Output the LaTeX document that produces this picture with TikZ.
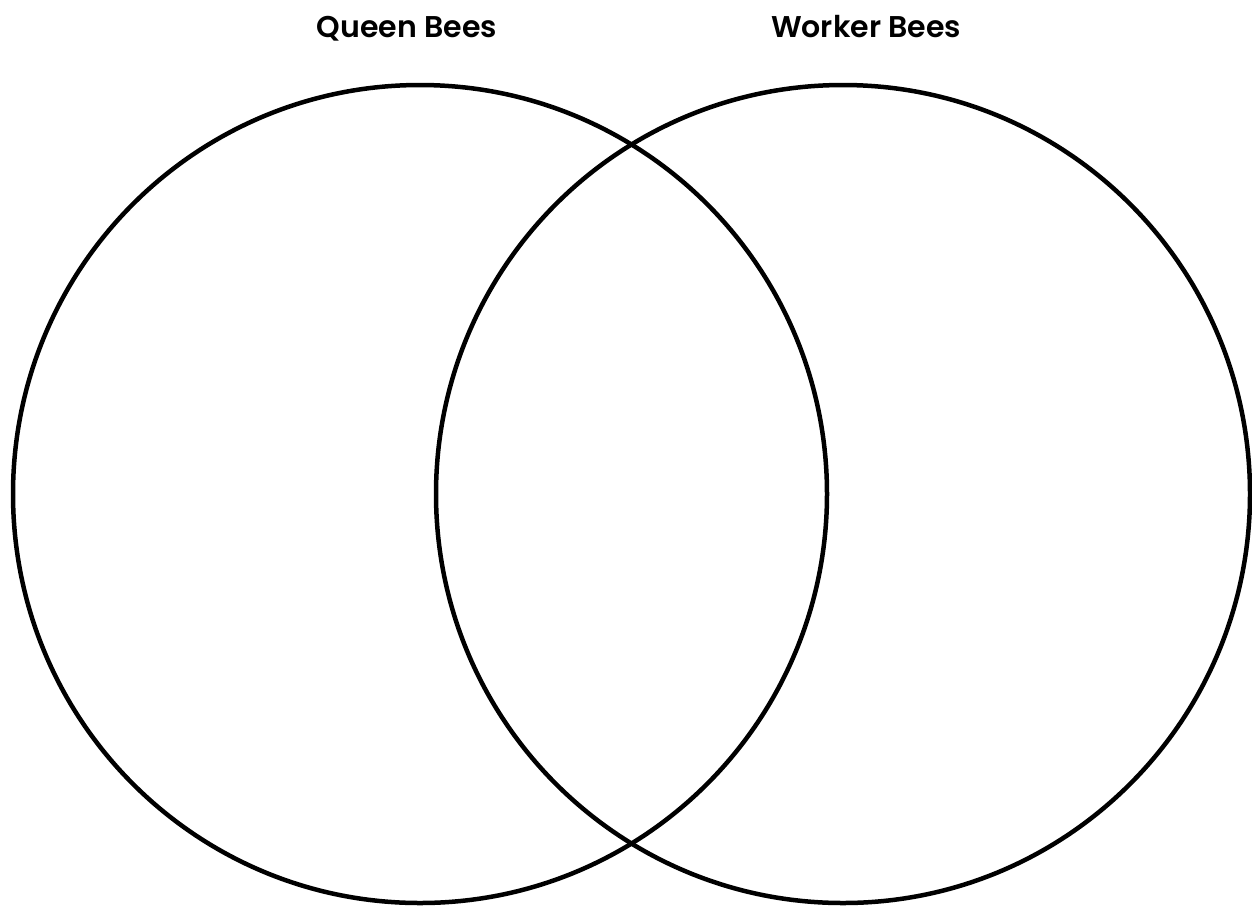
\documentclass[tikz,border=0pt]{standalone}
\usepackage{fontspec}
\setmainfont{Poppins}[BoldFont={* SemiBold}]
\begin{document}
\begin{tikzpicture}[x=1pt,y=-1pt,
  ring/.style={draw=black,line width=4.5pt},
  title/.style={font=\fontsize{30}{34}\selectfont\bfseries,anchor=base}]
\useasboundingbox (0,0) rectangle (1252,906);
\draw[ring] (420,494) ellipse [x radius=407,y radius=409];
\draw[ring] (843,494) ellipse [x radius=407,y radius=409];
\node[title] (q) at (407,37) {Queen Bees};
\node[title] (w) at (866,37) {Worker Bees};
\end{tikzpicture}
\end{document}
